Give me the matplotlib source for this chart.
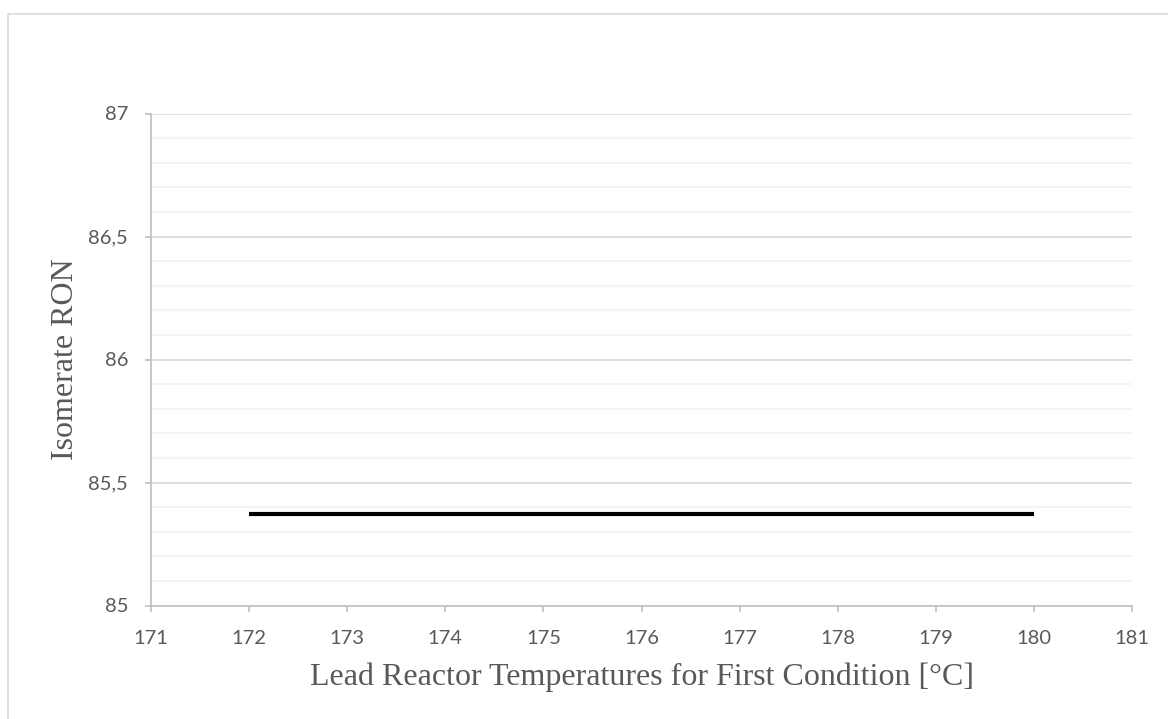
import matplotlib.pyplot as plt
from matplotlib.patches import Rectangle
from matplotlib.ticker import MultipleLocator, FuncFormatter

# data
temperatures = [172, 173, 174, 175, 176, 177, 178, 179, 180]
ron = [85.37, 85.37, 85.37, 85.37, 85.37, 85.37, 85.37, 85.37, 85.37]

W, H = 1168, 719
fig = plt.figure(figsize=(W / 100, H / 100), dpi=100)

# light frame around the chart area (runs off right/bottom edges)
fig.patches.append(Rectangle((8 / W, -0.1), 1.2, 1 - 14 / H + 0.1,
                             transform=fig.transFigure, fill=False,
                             edgecolor='#d9d9d9', linewidth=1.2))

ax = fig.add_axes([151 / W, 1 - 605.5 / H, (1132 - 151) / W, (605.5 - 113.5) / H])

ax.plot(temperatures, ron, color='black', linewidth=3, solid_capstyle='butt', zorder=3)

ax.set_xlim(171, 181)
ax.set_ylim(85, 87)
ax.xaxis.set_major_locator(MultipleLocator(1))
ax.yaxis.set_major_locator(MultipleLocator(0.5))
ax.yaxis.set_minor_locator(MultipleLocator(0.1))
ax.yaxis.set_major_formatter(FuncFormatter(lambda v, p: f'{v:g}'.replace('.', ',')))

ax.grid(True, which='major', axis='y', color='#d9d9d9', linewidth=1.2)
ax.grid(True, which='minor', axis='y', color='#f2f2f2', linewidth=1.2)
ax.set_axisbelow(True)

for side in ['top', 'right']:
    ax.spines[side].set_visible(False)
for side in ['left', 'bottom']:
    ax.spines[side].set_color('#bfbfbf')
    ax.spines[side].set_linewidth(1.2)

ax.tick_params(axis='both', which='major', direction='out', length=4.5, width=1.2,
               color='#bfbfbf', labelcolor='#595959', labelsize=14.5)
ax.tick_params(axis='y', which='minor', length=0)
ax.tick_params(axis='x', pad=13.5)
ax.tick_params(axis='y', pad=12)
for lbl in ax.get_xticklabels() + ax.get_yticklabels():
    lbl.set_family('Lato')

ax.set_xlabel('Lead Reactor Temperatures for First Condition [°C]', family='Liberation Serif',
              fontsize=23, color='#595959', labelpad=11)
ax.set_ylabel('Isomerate RON', family='Liberation Serif', fontsize=23, color='#595959',
              labelpad=6)

fig.savefig('out.png', dpi=100)
